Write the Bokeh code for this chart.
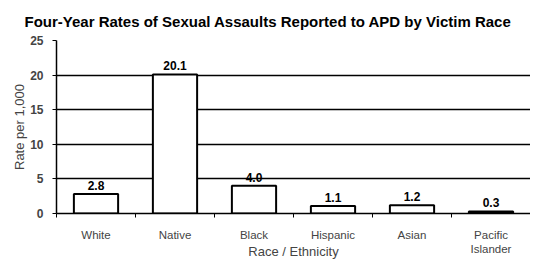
from bokeh.plotting import figure
from bokeh.models import ColumnDataSource, FixedTicker, Range1d, Title, LabelSet
from bokeh.core.properties import value
from bokeh.embed import file_html
from bokeh.resources import INLINE

categories = ["White", "Native", "Black", "Hispanic", "Asian", "Pacific\nIslander"]
rates = [2.8, 20.1, 4.0, 1.1, 1.2, 0.3]
rate_labels = ["2.8", "20.1", "4.0", "1.1", "1.2", "0.3"]
y_ticks = [0, 5, 10, 15, 20, 25]
title_text = "Four-Year Rates of Sexual Assaults Reported to APD by Victim Race"
x_title = "Race / Ethnicity"
y_title = "Rate per 1,000"

FONT = "Liberation Sans"
n = len(categories)
xs = [i + 0.5 for i in range(n)]

src = ColumnDataSource(dict(x=xs, top=rates, label=rate_labels))

p = figure(width=530, height=261, output_backend="svg", toolbar_location=None,
           x_range=Range1d(0, n), y_range=Range1d(0, 25),
           min_border_left=56, min_border_right=0, min_border_top=0, min_border_bottom=0)
p.title = Title(text=title_text, align="left", offset=-32, text_font=FONT,
                text_font_size="15px", text_font_style="bold", text_color="black", standoff=21)
p.outline_line_color = None

p.vbar(x="x", top="top", bottom=0, width=0.56, source=src,
       fill_color="white", line_color="black", line_width=2)

labels = LabelSet(x="x", y="top", text="label", source=src, text_align="center",
                  text_baseline="bottom", y_offset=4, text_font=value(FONT),
                  text_font_size=value("12px"), text_font_style="bold", text_color="black")
p.add_layout(labels)

# y axis
p.yaxis.ticker = FixedTicker(ticks=y_ticks)
p.yaxis.axis_label = y_title
p.yaxis.axis_label_text_font = FONT
p.yaxis.axis_label_text_font_size = "13px"
p.yaxis.axis_label_text_font_style = "normal"
p.yaxis.axis_label_standoff = 0
p.yaxis.major_label_text_font = FONT
p.yaxis.major_label_text_font_size = "12px"
p.yaxis.major_label_text_font_style = "bold"
p.yaxis.major_label_standoff = 9
p.yaxis.major_tick_out = 4
p.yaxis.major_tick_in = 0
p.yaxis.minor_tick_line_color = None
p.yaxis.axis_line_width = 1.5
p.yaxis.axis_line_color = "black"
p.yaxis.major_tick_line_color = "black"

# x axis
p.xaxis.ticker = FixedTicker(ticks=xs, minor_ticks=list(range(n + 1)))
p.xaxis.major_label_overrides = {x: c for x, c in zip(xs, categories)}
p.xaxis.major_tick_line_color = None
p.xaxis.minor_tick_out = 4
p.xaxis.minor_tick_in = 0
p.xaxis.minor_tick_line_color = "black"
p.xaxis.axis_line_width = 1.5
p.xaxis.axis_line_color = "black"
p.xaxis.major_label_text_font = FONT
p.xaxis.major_label_text_font_size = "11.5px"
p.xaxis.major_label_standoff = 9
p.xaxis.axis_label = x_title
p.xaxis.axis_label_text_font = FONT
p.xaxis.axis_label_text_font_size = "13px"
p.xaxis.axis_label_text_font_style = "normal"
p.xaxis.axis_label_standoff = -14

p.xgrid.grid_line_color = None
p.ygrid.ticker = FixedTicker(ticks=y_ticks)
p.ygrid.grid_line_color = "black"
p.ygrid.grid_line_width = 1.3

open("out.html", "w").write(file_html(p, INLINE))
